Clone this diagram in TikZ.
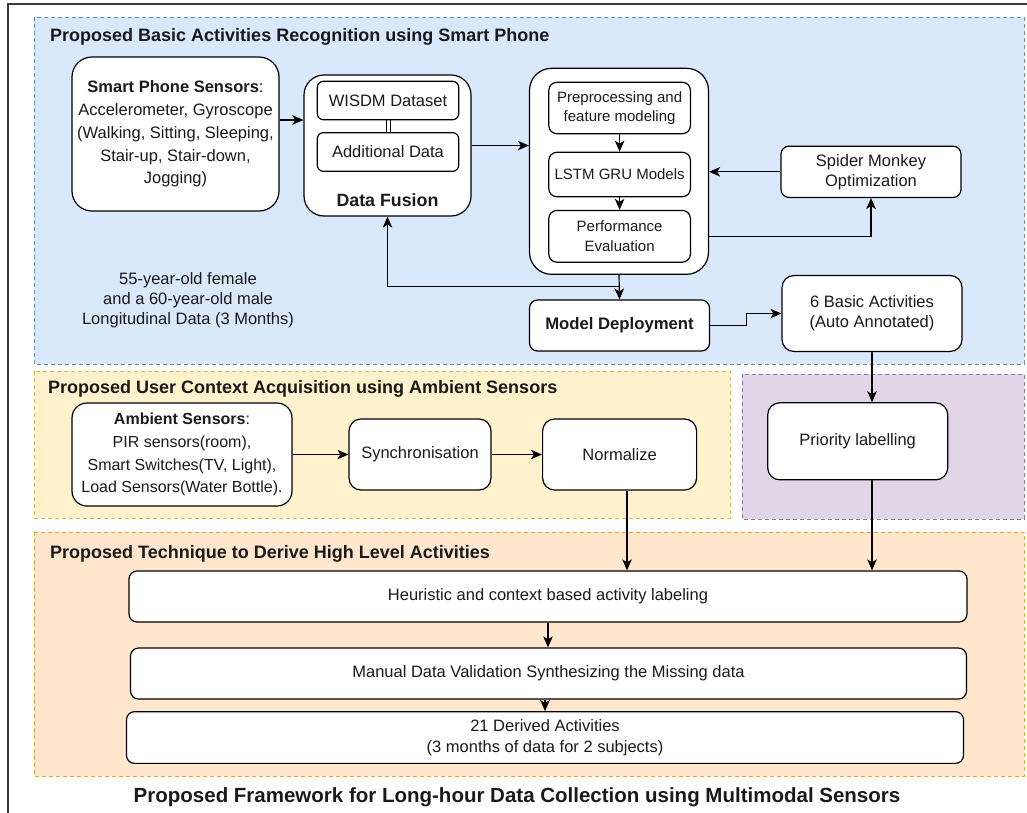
\documentclass[tikz,border=0pt]{standalone}
\usepackage{fontspec}
\setmainfont{Liberation Sans}
\usetikzlibrary{arrows.meta,calc}

\definecolor{bluefill}{HTML}{DAE8FC}
\definecolor{bluedraw}{HTML}{6C8EBF}
\definecolor{yelfill}{HTML}{FFF2CC}
\definecolor{yeldraw}{HTML}{D6B656}
\definecolor{purfill}{HTML}{E1D5E7}
\definecolor{purdraw}{HTML}{9673A6}
\definecolor{orafill}{HTML}{FFE6CC}
\definecolor{oradraw}{HTML}{E0A92A}
\definecolor{ink}{HTML}{1A1A1A}

\newcommand{\fbody}{\fontsize{16.5}{20}\selectfont}
\newcommand{\fbodyloose}{\fontsize{16.5}{22.8}\selectfont}
\newcommand{\finner}{\fontsize{15}{19.5}\selectfont}
\newcommand{\fhead}{\fontsize{18}{22}\selectfont\bfseries}
\newcommand{\fmain}{\fontsize{20.5}{24}\selectfont\bfseries}

\begin{document}
\begin{tikzpicture}[x=1pt,y=-1pt,
  region/.style={dash pattern=on 4pt off 3pt, line width=1pt},
  blk/.style={draw=black, fill=white, line width=1.2pt, align=center,
    inner sep=0pt, text=ink, font=\fbody},
  heading/.style={anchor=west, inner sep=0pt, text=ink, font=\fhead},
  arr/.style={-{Stealth[length=11pt,width=9.5pt,inset=3pt]}, line width=1.2pt, draw=black},
  link/.style={line width=1pt, draw=black}]

\useasboundingbox (0,0) rectangle (1027,812);

% outer frame (runs past the right and bottom edges)
\draw[line width=1.5pt, draw=ink!85] (8,4) rectangle (1045,830);

% group backgrounds
\draw[region, fill=bluefill, draw=bluedraw] (34,17) rectangle (1024,364);
\draw[region, fill=yelfill, draw=yeldraw] (34,371) rectangle (730,518);
\draw[region, fill=purfill, draw=purdraw] (742,374) rectangle (1024,519);
\draw[region, fill=orafill, draw=oradraw] (34,532) rectangle (1024,776);

% group headings
\node[heading] (h1) at (50,37) {Proposed Basic Activities Recognition using Smart Phone};
\node[heading] (h2) at (48,389) {Proposed User Context Acquisition using Ambient Sensors};
\node[heading] (h4) at (50,554) {Proposed Technique to Derive High Level Activities};

% smart phone branch
\node[blk, font=\fbodyloose, rounded corners=20pt, minimum width=207pt, minimum height=154pt]
  (sp) at (175.5,134) {\textbf{Smart Phone Sensors}:\\Accelerometer, Gyroscope\\(Walking, Sitting, Sleeping,\\Stair-up, Stair-down,\\Jogging)};

\node[blk, rounded corners=20pt, minimum width=167pt, minimum height=141pt]
  (df) at (387.5,145.5) {};
\node[blk, rounded corners=6pt, minimum width=141.4pt, minimum height=38.4pt]
  (wd) at (388,100.5) {WISDM Dataset};
\node[blk, rounded corners=6pt, minimum width=141.4pt, minimum height=38.6pt]
  (ad) at (388,152) {Additional Data};
\node[inner sep=0pt, text=ink, font=\fontsize{17.8}{22}\selectfont\bfseries] (dft) at (387.5,200) {Data Fusion};
\draw[link] ([xshift=-2pt]wd.south) -- ([xshift=-2pt]ad.north);
\draw[link] ([xshift=2pt]wd.south) -- ([xshift=2pt]ad.north);

\node[blk, rounded corners=22pt, minimum width=179pt, minimum height=206pt]
  (ct) at (619,171.3) {};
\node[blk, font=\finner, rounded corners=8pt, minimum width=141.6pt, minimum height=51.4pt]
  (pp) at (619.6,108) {Preprocessing and\\feature modeling};
\node[blk, font=\finner, rounded corners=8pt, minimum width=141.6pt, minimum height=44.4pt]
  (ls) at (619.6,174.5) {LSTM GRU Models};
\node[blk, font=\finner, rounded corners=8pt, minimum width=141.6pt, minimum height=51.7pt]
  (pf) at (619.6,236.3) {Performance\\Evaluation};

\node[blk, rounded corners=8pt, minimum width=180pt, minimum height=51.3pt]
  (sm) at (871,171.8) {Spider Monkey\\Optimization};
\node[blk, font=\fontsize{16.7}{20}\selectfont\bfseries, rounded corners=8pt, minimum width=180pt, minimum height=51pt]
  (md) at (619.5,325.5) {Model Deployment};
\node[blk, rounded corners=12pt, minimum width=180pt, minimum height=76pt]
  (ba) at (872,313.5) {6 Basic Activities\\(Auto Annotated)};

\node[inner sep=0pt, align=center, text=ink, font=\fbody] (info) at (188,300.5)
  {55-year-old female\\and a 60-year-old male\\Longitudinal Data (3 Months)};

% ambient branch
\node[blk, font=\fontsize{16}{22.7}\selectfont, rounded corners=15pt, minimum width=220pt, minimum height=103pt]
  (am) at (182,454.5) {\textbf{Ambient Sensors}:\\PIR sensors(room),\\Smart Switches(TV, Light),\\Load Sensors(Water Bottle).};
\node[blk, rounded corners=12pt, minimum width=142pt, minimum height=71pt]
  (sy) at (420,454.5) {Synchronisation};
\node[blk, rounded corners=12pt, minimum width=154pt, minimum height=71pt]
  (nz) at (619.6,454.5) {Normalize};
\node[blk, rounded corners=12pt, minimum width=180pt, minimum height=77pt]
  (pl) at (857.7,441.3) {Priority labelling};

% high level activities
\node[blk, rounded corners=8pt, minimum width=838pt, minimum height=51pt]
  (he) at (548,596.5) {Heuristic and context based activity labeling};
\node[blk, rounded corners=8pt, minimum width=836pt, minimum height=51pt]
  (mv) at (548.5,673.5) {Manual Data Validation Synthesizing the Missing data};
\node[blk, font=\fontsize{16.5}{21}\selectfont, rounded corners=8pt, minimum width=837pt, minimum height=51.7pt]
  (dv) at (545,737.5) {21 Derived Activities\\(3 months of data for 2 subjects)};

\node[inner sep=0pt, text=ink, font=\fmain] (title) at (517,797)
  {Proposed Framework for Long-hour Data Collection using Multimodal Sensors};

% connectors
\draw[arr] ([yshift=14pt]sp.east) -- ([yshift=14pt]sp.east -| df.west);
\draw[arr] (df.east) -- (df.east -| ct.west);
\draw[arr] (pp) -- (ls);
\draw[arr] (ls) -- (pf);
\draw[arr] (sm.west) -- (sm.west -| ct.east);
\draw[arr] (pf.east -| ct.east) -| (sm.south);
\draw[arr] (ct.south) -- (md.north);
\coordinate (j) at ($(md.north)+(0,-13.3)$);
\draw[arr] (j) -| (df.south);
\draw[arr] (md.east) -- ++(36.7,0) |- (ba.west);
\draw[arr] (ba.south) -- (ba.south |- pl.north);
\draw[arr] (am) -- (sy);
\draw[arr] (sy) -- (nz);
\coordinate (nzo) at ($(nz.south)+(7.4,0)$);
\draw[arr] (nzo) -- (nzo |- he.north);
\draw[arr] (ba.south |- pl.south) -- (ba.south |- he.north);
\draw[arr] (he.south) -- (he.south |- mv.north);
\draw[arr] (mv.south -| dv.north) -- (dv.north);

\end{tikzpicture}
\end{document}
